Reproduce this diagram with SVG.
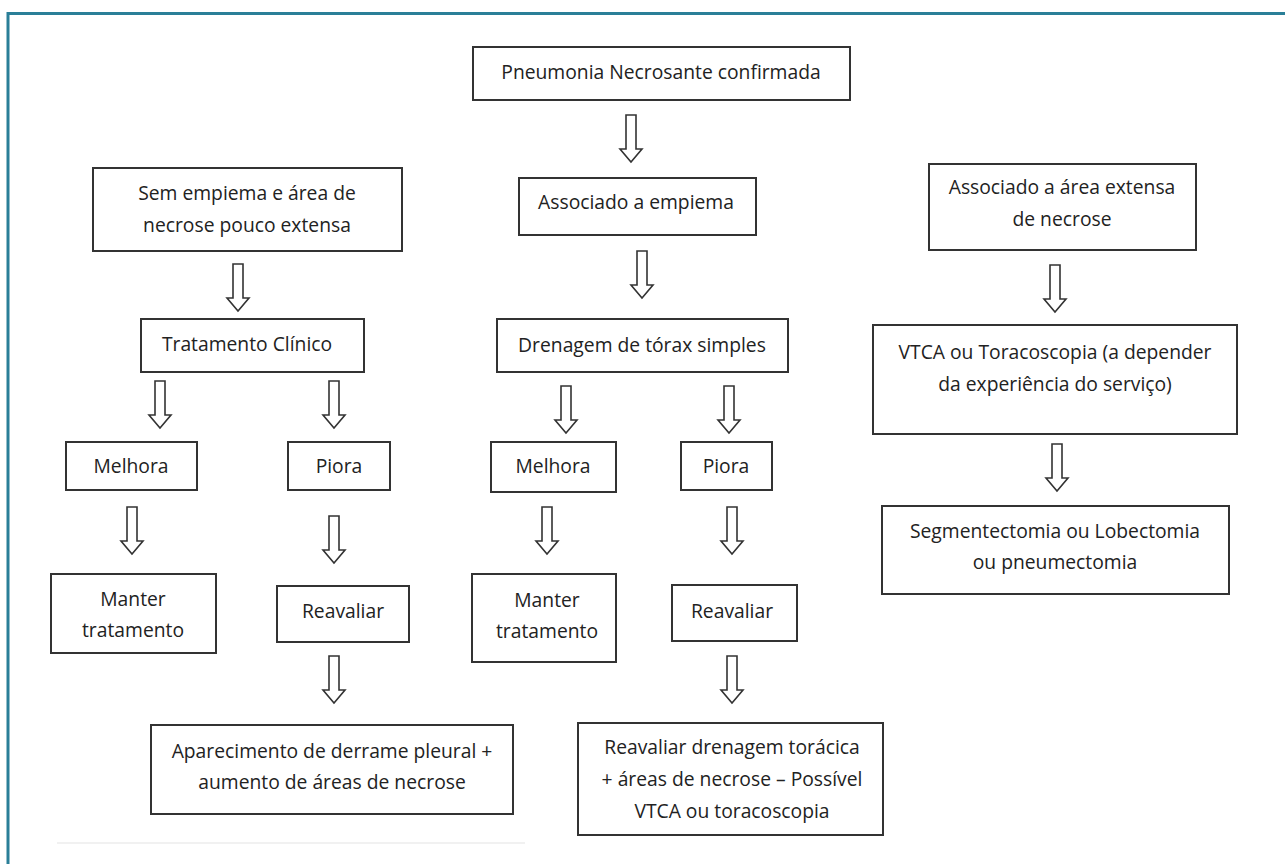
<svg xmlns="http://www.w3.org/2000/svg" width="1285" height="864" viewBox="0 0 1285 864">
<style>
.box{fill:#fff;stroke:#333;stroke-width:2}
.t{font-family:"Open Sans","Liberation Sans",sans-serif;font-size:19.3px;fill:#222;text-anchor:middle}
.arr{fill:#fff;stroke:#333;stroke-width:1.6;stroke-linejoin:miter}
</style>
<defs>
<path id="ar" class="arr" d="M-5,0 H5 V34 H11 L0,47 L-11,34 H-5 Z"/>
</defs>
<rect width="1285" height="864" fill="#fff"/>
<path d="M8,864 V13.5 H1285" fill="none" stroke="#2a7f98" stroke-width="3"/>
<line x1="57" y1="843" x2="525" y2="843" stroke="#ececec" stroke-width="1.5"/>

<g id="connectors">
<use href="#ar" x="631" y="115"/>
<use href="#ar" x="238" y="264"/>
<use href="#ar" x="642" y="251"/>
<use href="#ar" x="1055" y="265"/>
<use href="#ar" x="160" y="381"/>
<use href="#ar" x="334" y="381"/>
<use href="#ar" x="566" y="386"/>
<use href="#ar" x="729" y="386"/>
<use href="#ar" x="132" y="507"/>
<use href="#ar" x="334" y="516"/>
<use href="#ar" x="547" y="507"/>
<use href="#ar" x="732" y="507"/>
<use href="#ar" x="334" y="656"/>
<use href="#ar" x="732" y="656"/>
<use href="#ar" x="1057" y="444"/>
</g>

<g id="n-pneumonia">
<rect class="box" x="473" y="47" width="377" height="53"/>
<text class="t" x="661" y="79">Pneumonia Necrosante confirmada</text>
</g>
<g id="n-sem-empiema">
<rect class="box" x="93" y="168" width="309" height="83"/>
<text class="t" x="247" y="200">Sem empiema e área de</text>
<text class="t" x="247" y="232">necrose pouco extensa</text>
</g>
<g id="n-assoc-empiema">
<rect class="box" x="519" y="178" width="237" height="57"/>
<text class="t" x="636" y="209">Associado a empiema</text>
</g>
<g id="n-assoc-necrose">
<rect class="box" x="929" y="164" width="267" height="86"/>
<text class="t" x="1062" y="194">Associado a área extensa</text>
<text class="t" x="1062" y="226">de necrose</text>
</g>
<g id="n-trat-clinico">
<rect class="box" x="141" y="319" width="223" height="53"/>
<text class="t" x="247" y="351">Tratamento Clínico</text>
</g>
<g id="n-drenagem">
<rect class="box" x="497" y="319" width="291" height="53"/>
<text class="t" x="642" y="352">Drenagem de tórax simples</text>
</g>
<g id="n-vtca">
<rect class="box" x="873" y="325" width="364" height="109"/>
<text class="t" x="1055" y="359">VTCA ou Toracoscopia (a depender</text>
<text class="t" x="1055" y="391">da experiência do serviço)</text>
</g>
<g id="n-melhora-1">
<rect class="box" x="66" y="442" width="131" height="48"/>
<text class="t" x="131" y="473">Melhora</text>
</g>
<g id="n-piora-1">
<rect class="box" x="288" y="442" width="102" height="48"/>
<text class="t" x="339" y="473">Piora</text>
</g>
<g id="n-melhora-2">
<rect class="box" x="491" y="442" width="125" height="50"/>
<text class="t" x="553" y="473">Melhora</text>
</g>
<g id="n-piora-2">
<rect class="box" x="681" y="442" width="91" height="48"/>
<text class="t" x="726" y="473">Piora</text>
</g>
<g id="n-segment">
<rect class="box" x="882" y="506" width="347" height="88"/>
<text class="t" x="1055" y="538">Segmentectomia ou Lobectomia</text>
<text class="t" x="1055" y="569">ou pneumectomia</text>
</g>
<g id="n-manter-1">
<rect class="box" x="51" y="574" width="165" height="79"/>
<text class="t" x="133" y="606">Manter</text>
<text class="t" x="133" y="637">tratamento</text>
</g>
<g id="n-reavaliar-1">
<rect class="box" x="277" y="586" width="132" height="56"/>
<text class="t" x="343" y="618">Reavaliar</text>
</g>
<g id="n-manter-2">
<rect class="box" x="472" y="574" width="144" height="88"/>
<text class="t" x="547" y="607">Manter</text>
<text class="t" x="547" y="638">tratamento</text>
</g>
<g id="n-reavaliar-2">
<rect class="box" x="672" y="585" width="125" height="56"/>
<text class="t" x="732" y="618">Reavaliar</text>
</g>
<g id="n-aparecimento">
<rect class="box" x="151" y="725" width="362" height="89"/>
<text class="t" x="332" y="758">Aparecimento de derrame pleural +</text>
<text class="t" x="332" y="789">aumento de áreas de necrose</text>
</g>
<g id="n-reavaliar-drenagem">
<rect class="box" x="578" y="723" width="305" height="112"/>
<text class="t" x="732" y="754">Reavaliar drenagem torácica</text>
<text class="t" x="732" y="786">+ áreas de necrose – Possível</text>
<text class="t" x="732" y="818">VTCA ou toracoscopia</text>
</g>
</svg>
